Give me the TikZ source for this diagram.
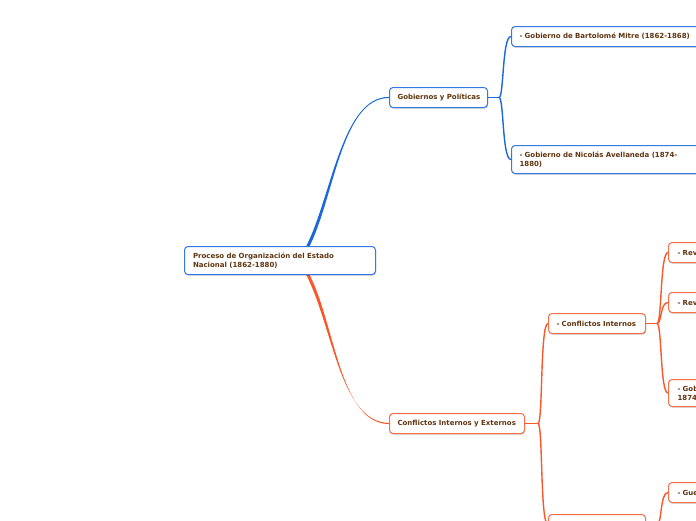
\documentclass[tikz,border=0pt]{standalone}
\usepackage{fontspec}
\setmainfont{DejaVu Sans}
\usetikzlibrary{shadows,calc,backgrounds}
\definecolor{cblue}{RGB}{28,104,218}
\definecolor{cblueb}{RGB}{52,122,226}
\definecolor{corange}{RGB}{250,88,42}
\definecolor{coraneb}{RGB}{246,112,72}
\definecolor{ctext}{RGB}{96,54,16}
\newcommand\nbline[1]{\mbox{#1}}
% tapered curve: #1 colour, #2 start name, #3 c1, #4 c2, #5 end name
\newcommand\taperpath[5]{%
  \fill[#1] ($(#2)+(-1.7,0)$) .. controls ($#3+(-1.4,0)$) and ($#4+(0,-0.55)$) .. ($(#5)+(0,-0.55)$)
     -- ($(#5)+(0,0.55)$) .. controls ($#4+(0,0.55)$) and ($#3+(1.4,0)$) .. ($(#2)+(1.7,0)$) -- cycle;}
\tikzset{
  mbox/.style={draw, rounded corners=3.5pt, line width=1pt, fill=white, anchor=north west,
    align=left, inner xsep=8pt, inner ysep=0pt,
    font=\bfseries\fontsize{7}{9}\selectfont, text=ctext,
    drop shadow={shadow xshift=0.5pt, shadow yshift=-1.2pt, opacity=0.22, fill=black}},
  bbox/.style={mbox, draw=cblueb},
  obox/.style={mbox, draw=coraneb},
  conn/.style={line width=1.4pt, line cap=round},
}
\begin{document}
\begin{tikzpicture}[x=1pt,y=-1pt]
\useasboundingbox (0,0) rectangle (696,520);
\clip (0,0) rectangle (696,520);
% nodes
\node[bbox, text width=174pt, minimum height=28pt, inner xsep=8.5pt] (root) at (184,246)
  {\nbline{Proceso de Organización del Estado}\\\nbline{Nacional (1862-1880)}};
\node[bbox, text width=82pt, minimum height=20pt] (gob) at (389,87) {\nbline{Gobiernos y Políticas}};
\node[bbox, text width=190pt, minimum height=20pt] (mitre) at (511,26) {\nbline{- Gobierno de Bartolomé Mitre (1862-1868)}};
\node[bbox, text width=190pt, minimum height=28pt] (avel) at (511,145) {\nbline{- Gobierno de Nicolás Avellaneda (1874-}\\\nbline{1880)}};
\node[obox, text width=119pt, minimum height=20pt] (cie) at (389,413) {\nbline{Conflictos Internos y Externos}};
\node[obox, text width=81pt, minimum height=20pt] (ci) at (548,313) {\nbline{- Conflictos Internos}};
\node[obox, text width=81pt, minimum height=20pt] (bot) at (548,514) {};
\node[obox, text width=60pt, minimum height=20pt, inner xsep=9pt] (rev1) at (668,242) {\nbline{- Rev}};
\node[obox, text width=60pt, minimum height=20pt, inner xsep=9pt] (rev2) at (668,292) {\nbline{- Rev}};
\node[obox, text width=60pt, minimum height=27pt, inner xsep=9pt] (gobx) at (668,379) {\nbline{- Gob}\\\nbline{1874}};
\node[obox, text width=60pt, minimum height=20pt, inner xsep=9pt] (gue) at (668,482) {\nbline{- Gue}};
% connectors
\begin{pgfonlayer}{background}
\coordinate (rt) at ($(root.north west)+(124,0)$);
\coordinate (rb) at ($(root.south west)+(124,0)$);
\taperpath{cblue}{rt}{(333,196)}{(342,97)}{gob.west}
\taperpath{corange}{rb}{(334,326)}{(340,423)}{cie.west}
% Gobiernos children
\draw[conn,cblue] (gob.east) -- ++(11,0) coordinate (gj);
\draw[conn,cblue] (gj) .. controls +(5,0) and +(-9,0) .. (mitre.west);
\draw[conn,cblue] (gj) .. controls +(5,0) and +(-9,0) .. (avel.west);
% Conflictos Internos y Externos children
\draw[conn,corange] (cie.east) -- ++(13,0) coordinate (oj);
\draw[conn,corange] (oj) .. controls +(5,0) and +(-8,0) .. (ci.west);
\draw[conn,corange] (oj) .. controls +(5,0) and +(-8,0) .. (bot.west);
% Conflictos Internos children
\draw[conn,corange] (ci.east) -- ++(11,0) coordinate (cj);
\draw[conn,corange] (cj) .. controls +(5,0) and +(-8,0) .. (rev1.west);
\draw[conn,corange] (cj) .. controls +(5,0) and +(-8,0) .. (rev2.west);
\draw[conn,corange] (cj) .. controls +(5,0) and +(-8,0) .. (gobx.west);
% bottom node child
\draw[conn,corange] (bot.east) -- ++(11,0) coordinate (bj);
\draw[conn,corange] (bj) .. controls +(5,0) and +(-8,0) .. (gue.west);
\end{pgfonlayer}
\end{tikzpicture}
\end{document}
